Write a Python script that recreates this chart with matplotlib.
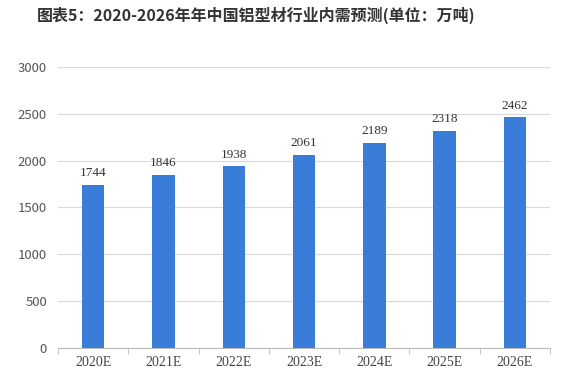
import matplotlib
matplotlib.use('Agg')
import matplotlib.pyplot as plt
import numpy as np

plt.rcParams['font.family'] = ['Noto Sans CJK SC', 'DejaVu Sans']

years = ["2020E", "2021E", "2022E", "2023E", "2024E", "2025E", "2026E"]
demand = [1744, 1846, 1938, 2061, 2189, 2318, 2462]

fig = plt.figure(figsize=(5.87, 3.82), dpi=100)
ax = fig.add_axes([0.099, 0.089, 0.838, 0.736])

x = np.arange(len(years))
bars = ax.bar(x, demand, 0.32, color='#3a7dd8', zorder=3)
for b, v in zip(bars, demand):
    ax.text(b.get_x() + b.get_width() / 2, v + 60, str(v), ha='center', va='bottom',
            fontsize=9.5, family='Liberation Serif', color='#333333')

ax.set_ylim(0, 3000)
ax.set_yticks(range(0, 3001, 500))
ax.set_xlim(-0.5, len(years) - 0.5)
ax.set_xticks(x)
ax.set_xticklabels(years, family='Liberation Serif', fontsize=10, color='#444444')
ax.set_xticks(np.arange(-0.5, len(years)), minor=True)
ax.tick_params(axis='x', which='major', length=0, pad=6)
ax.tick_params(axis='x', which='minor', length=4, color='#bbbbbb')
ax.tick_params(axis='y', length=0, labelsize=9.5, labelcolor='#555555', pad=8)
ax.grid(axis='y', color='#d9d9d9', linewidth=0.8, zorder=0)
for s in ['top', 'right', 'left']:
    ax.spines[s].set_visible(False)
ax.spines['bottom'].set_color('#bbbbbb')

fig.text(0.436, 0.96, '图表5：2020-2026年年中国铝型材行业内需预测(单位：万吨)',
         ha='center', va='center', fontsize=11.5, fontweight='bold', color='#333333')

fig.savefig('out.png', dpi=100)
